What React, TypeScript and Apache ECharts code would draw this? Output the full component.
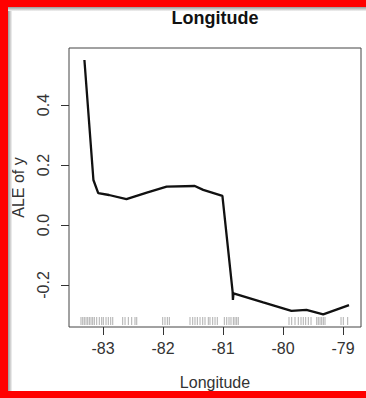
import React, { useEffect, useRef } from "react";
import * as echarts from "echarts";

// ALE curve points: [longitude, ALE]
const lineLon = [-83.31, -83.16, -83.08, -82.9, -82.61, -82.27, -81.94, -81.47, -81.33, -81.01, -80.84, -80.835, -80.825, -80.33, -79.86, -79.61, -79.33, -78.9];
const lineAle = [0.55, 0.15, 0.106, 0.1, 0.086, 0.108, 0.128, 0.13, 0.117, 0.097, -0.222, -0.25, -0.228, -0.258, -0.286, -0.283, -0.298, -0.267];

// rug positions (observed longitudes)
const rugLon = [
  -83.367, -83.338, -83.312, -83.283, -83.255, -83.228, -83.2, -83.172, -83.145, -83.105, -83.062, -83.022, -82.995, -82.95, -82.912, -82.872, -82.838,
  -82.672, -82.633, -82.578, -82.522, -82.467, -82.438,
  -82.005, -81.967, -81.928, -81.895,
  -81.55, -81.505, -81.467, -81.428, -81.383, -81.338, -81.3, -81.245, -81.217, -81.172, -81.133, -81.095,
  -80.978, -80.938, -80.9, -80.867, -80.828, -80.8, -80.772, -80.745,
  -79.9, -79.855, -79.8, -79.745, -79.7, -79.662, -79.622, -79.578, -79.533,
  -79.438, -79.412, -79.383, -79.355, -79.328, -79.3,
  -79.033, -78.995, -78.922,
];

const xTicks = [-83, -82, -81, -80, -79];
const yTicks = [-0.2, 0, 0.2, 0.4];

const X_MIN = -83.567;
const X_MAX = -78.7;
const Y_MIN = -0.34;
const Y_MAX = 0.59;

const FONT = "'Liberation Sans', Arial, sans-serif";

export default function App() {
  const ref = useRef<HTMLDivElement>(null);
  useEffect(() => {
    if (!ref.current) return;
    const chart = echarts.init(ref.current, null, { renderer: "svg" });
    const lineData = lineLon.map((x, i) => [x, lineAle[i]]);
    chart.setOption({
      animation: false,
      backgroundColor: "#ffffff",
      title: {
        text: "Longitude",
        left: 215,
        top: 9,
        textAlign: "center",
        padding: 0,
        textStyle: { fontFamily: FONT, fontSize: 18, fontWeight: "bold", color: "#111" },
      },
      grid: {
        left: 69,
        right: 5,
        top: 48,
        bottom: 71,
        show: true,
        borderColor: "#444",
        borderWidth: 1,
        backgroundColor: "transparent",
        containLabel: false,
        outerBoundsMode: "none",
      },
      xAxis: {
        type: "value",
        min: X_MIN,
        max: X_MAX,
        name: "Longitude",
        nameLocation: "middle",
        nameGap: 47,
        nameTextStyle: { fontFamily: FONT, fontSize: 16, color: "#333" },
        axisLine: { show: false, onZero: false },
        splitLine: { show: false },
        axisTick: { show: true, length: 8, lineStyle: { color: "#333" }, customValues: xTicks },
        axisLabel: {
          customValues: xTicks,
          margin: 13,
          fontFamily: FONT,
          fontSize: 16,
          color: "#333",
          formatter: (v: number) => String(v),
        },
      },
      yAxis: {
        type: "value",
        min: Y_MIN,
        max: Y_MAX,
        name: "ALE of y",
        nameLocation: "middle",
        nameGap: 43,
        nameTextStyle: { fontFamily: FONT, fontSize: 16, color: "#333" },
        axisLine: { show: false, onZero: false },
        splitLine: { show: false },
        axisTick: { show: true, length: 8, lineStyle: { color: "#333" }, customValues: yTicks },
        axisLabel: {
          customValues: yTicks,
          rotate: 90,
          margin: 18,
          fontFamily: FONT,
          fontSize: 16,
          color: "#333",
          formatter: (v: number) => v.toFixed(1),
        },
      },
      series: [
        {
          type: "custom",
          name: "rug",
          data: rugLon.map((v) => [v]),
          clip: false,
          silent: true,
          renderItem: (params: any, api: any) => {
            const p = api.coord([api.value(0), Y_MIN]);
            return {
              type: "line",
              shape: { x1: p[0], y1: p[1] - 2, x2: p[0], y2: p[1] - 10 },
              style: { stroke: "rgba(110,110,110,0.55)", lineWidth: 1 },
            };
          },
        },
        {
          type: "line",
          name: "ALE",
          data: lineData,
          showSymbol: false,
          symbol: "none",
          lineStyle: { color: "#111", width: 2.3 },
        },
      ],
      graphic: [
        {
          type: "rect",
          shape: { x: 8, y: 7, width: 4, height: 384 },
          style: {
            fill: new echarts.graphic.LinearGradient(0, 0, 1, 0, [
              { offset: 0, color: "#9a9a9a" },
              { offset: 1, color: "#f4f4f4" },
            ]),
          },
          z: 100,
        },
        {
          type: "rect",
          shape: { x: 8, y: 7, width: 358, height: 4 },
          style: {
            fill: new echarts.graphic.LinearGradient(0, 0, 0, 1, [
              { offset: 0, color: "#9a9a9a" },
              { offset: 1, color: "#f4f4f4" },
            ]),
          },
          z: 100,
        },
        { type: "rect", shape: { x: 0, y: 0, width: 8, height: 398 }, style: { fill: "#ff0000" }, z: 101 },
        { type: "rect", shape: { x: 0, y: 0, width: 366, height: 7 }, style: { fill: "#ff0000" }, z: 101 },
        { type: "rect", shape: { x: 0, y: 391, width: 366, height: 7 }, style: { fill: "#ff0000" }, z: 101 },
      ],
    });
    return () => chart.dispose();
  }, []);
  return (
    <div
      ref={ref}
      style={{ position: "fixed", left: 0, top: 0, width: 366, height: 398 }}
    />
  );
}
